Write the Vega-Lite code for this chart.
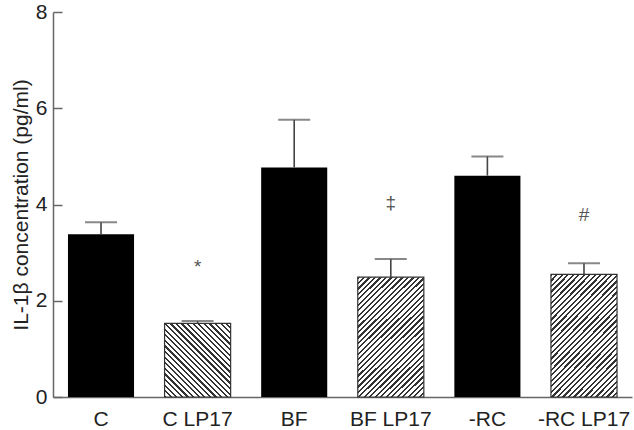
{
  "$schema": "https://vega.github.io/schema/vega-lite/v6.json",
  "width": 579,
  "height": 385,
  "autosize": "none",
  "padding": {"left": 53, "top": 12, "right": 2, "bottom": 33},
  "background": "white",
  "config": {"view": {"stroke": null}, "font": "Liberation Sans"},
  "data": {"values": [
    {"group": "C", "mean": 3.38, "upper": 3.63, "sig": null, "sig_y": null},
    {"group": "C LP17", "mean": 1.53, "upper": 1.58, "sig": "*", "sig_y": 2.7},
    {"group": "BF", "mean": 4.77, "upper": 5.76, "sig": null, "sig_y": null},
    {"group": "BF LP17", "mean": 2.49, "upper": 2.87, "sig": "‡", "sig_y": 4.03},
    {"group": "-RC", "mean": 4.6, "upper": 5.0, "sig": null, "sig_y": null},
    {"group": "-RC LP17", "mean": 2.55, "upper": 2.78, "sig": "#", "sig_y": 3.78}
  ]},
  "encoding": {
    "x": {"field": "group", "type": "nominal", "sort": ["C", "C LP17", "BF", "BF LP17", "-RC", "-RC LP17"],
      "scale": {"paddingInner": 0.316, "paddingOuter": 0.155},
      "axis": {"title": null, "labelAngle": 0, "ticks": false, "labelPadding": 11,
        "labelFontSize": 21, "labelColor": "#222", "domainColor": "#666", "domainWidth": 1.5}}
  },
  "layer": [
    {
      "transform": [{"filter": "indexof(['C','BF','-RC'], datum.group) >= 0"}],
      "mark": {"type": "bar", "color": "black"},
      "encoding": {
        "y": {"field": "mean", "type": "quantitative",
          "scale": {"domain": [0, 8], "nice": false},
          "axis": {"title": "IL-1β concentration (pg/ml)", "titleFontSize": 21, "titleFontWeight": "normal",
            "titleColor": "#222", "titlePadding": 4, "values": [0, 2, 4, 6, 8], "grid": false,
            "tickSize": -9, "tickColor": "#666", "tickWidth": 1.5, "labelPadding": 15,
            "labelFontSize": 21, "labelColor": "#222", "domainColor": "#666", "domainWidth": 1.5}}
      }
    },
    {
      "transform": [{"filter": "datum.group == 'C LP17'"}],
      "mark": {"type": "bar", "stroke": "#333", "strokeWidth": 1.2,
        "fill": {"gradient": "linear", "x1": 0, "y1": 1, "x2": 0.9427, "y2": -0.0513, "stops": [
          {"offset":0,"color":"#333"},{"offset":0.016,"color":"#333"},{"offset":0.016,"color":"#fff"},{"offset":0.04,"color":"#fff"},
          {"offset":0.04,"color":"#333"},{"offset":0.056,"color":"#333"},{"offset":0.056,"color":"#fff"},{"offset":0.08,"color":"#fff"},
          {"offset":0.08,"color":"#333"},{"offset":0.096,"color":"#333"},{"offset":0.096,"color":"#fff"},{"offset":0.12,"color":"#fff"},
          {"offset":0.12,"color":"#333"},{"offset":0.136,"color":"#333"},{"offset":0.136,"color":"#fff"},{"offset":0.16,"color":"#fff"},
          {"offset":0.16,"color":"#333"},{"offset":0.176,"color":"#333"},{"offset":0.176,"color":"#fff"},{"offset":0.2,"color":"#fff"},
          {"offset":0.2,"color":"#333"},{"offset":0.216,"color":"#333"},{"offset":0.216,"color":"#fff"},{"offset":0.24,"color":"#fff"},
          {"offset":0.24,"color":"#333"},{"offset":0.256,"color":"#333"},{"offset":0.256,"color":"#fff"},{"offset":0.28,"color":"#fff"},
          {"offset":0.28,"color":"#333"},{"offset":0.296,"color":"#333"},{"offset":0.296,"color":"#fff"},{"offset":0.32,"color":"#fff"},
          {"offset":0.32,"color":"#333"},{"offset":0.336,"color":"#333"},{"offset":0.336,"color":"#fff"},{"offset":0.36,"color":"#fff"},
          {"offset":0.36,"color":"#333"},{"offset":0.376,"color":"#333"},{"offset":0.376,"color":"#fff"},{"offset":0.4,"color":"#fff"},
          {"offset":0.4,"color":"#333"},{"offset":0.416,"color":"#333"},{"offset":0.416,"color":"#fff"},{"offset":0.44,"color":"#fff"},
          {"offset":0.44,"color":"#333"},{"offset":0.456,"color":"#333"},{"offset":0.456,"color":"#fff"},{"offset":0.48,"color":"#fff"},
          {"offset":0.48,"color":"#333"},{"offset":0.496,"color":"#333"},{"offset":0.496,"color":"#fff"},{"offset":0.52,"color":"#fff"},
          {"offset":0.52,"color":"#333"},{"offset":0.536,"color":"#333"},{"offset":0.536,"color":"#fff"},{"offset":0.56,"color":"#fff"},
          {"offset":0.56,"color":"#333"},{"offset":0.576,"color":"#333"},{"offset":0.576,"color":"#fff"},{"offset":0.6,"color":"#fff"},
          {"offset":0.6,"color":"#333"},{"offset":0.616,"color":"#333"},{"offset":0.616,"color":"#fff"},{"offset":0.64,"color":"#fff"},
          {"offset":0.64,"color":"#333"},{"offset":0.656,"color":"#333"},{"offset":0.656,"color":"#fff"},{"offset":0.68,"color":"#fff"},
          {"offset":0.68,"color":"#333"},{"offset":0.696,"color":"#333"},{"offset":0.696,"color":"#fff"},{"offset":0.72,"color":"#fff"},
          {"offset":0.72,"color":"#333"},{"offset":0.736,"color":"#333"},{"offset":0.736,"color":"#fff"},{"offset":0.76,"color":"#fff"},
          {"offset":0.76,"color":"#333"},{"offset":0.776,"color":"#333"},{"offset":0.776,"color":"#fff"},{"offset":0.8,"color":"#fff"},
          {"offset":0.8,"color":"#333"},{"offset":0.816,"color":"#333"},{"offset":0.816,"color":"#fff"},{"offset":0.84,"color":"#fff"},
          {"offset":0.84,"color":"#333"},{"offset":0.856,"color":"#333"},{"offset":0.856,"color":"#fff"},{"offset":0.88,"color":"#fff"},
          {"offset":0.88,"color":"#333"},{"offset":0.896,"color":"#333"},{"offset":0.896,"color":"#fff"},{"offset":0.92,"color":"#fff"},
          {"offset":0.92,"color":"#333"},{"offset":0.936,"color":"#333"},{"offset":0.936,"color":"#fff"},{"offset":0.96,"color":"#fff"},
          {"offset":0.96,"color":"#333"},{"offset":0.976,"color":"#333"},{"offset":0.976,"color":"#fff"},{"offset":1,"color":"#fff"}
        ]}},
      "encoding": {"y": {"field": "mean", "type": "quantitative"}}
    },
    {
      "transform": [{"filter": "datum.group == 'BF LP17' || datum.group == '-RC LP17'"}],
      "mark": {"type": "bar", "stroke": "#333", "strokeWidth": 1.2,
        "fill": {"gradient": "linear", "x1": 0, "y1": 0, "x2": 0.65, "y2": 1.19, "stops": [
          {"offset":0,"color":"#333"},{"offset":0.0118,"color":"#333"},{"offset":0.0118,"color":"#fff"},{"offset":0.0294,"color":"#fff"},
          {"offset":0.0294,"color":"#333"},{"offset":0.0412,"color":"#333"},{"offset":0.0412,"color":"#fff"},{"offset":0.0588,"color":"#fff"},
          {"offset":0.0588,"color":"#333"},{"offset":0.0706,"color":"#333"},{"offset":0.0706,"color":"#fff"},{"offset":0.0882,"color":"#fff"},
          {"offset":0.0882,"color":"#333"},{"offset":0.1,"color":"#333"},{"offset":0.1,"color":"#fff"},{"offset":0.1176,"color":"#fff"},
          {"offset":0.1176,"color":"#333"},{"offset":0.1294,"color":"#333"},{"offset":0.1294,"color":"#fff"},{"offset":0.1471,"color":"#fff"},
          {"offset":0.1471,"color":"#333"},{"offset":0.1588,"color":"#333"},{"offset":0.1588,"color":"#fff"},{"offset":0.1765,"color":"#fff"},
          {"offset":0.1765,"color":"#333"},{"offset":0.1882,"color":"#333"},{"offset":0.1882,"color":"#fff"},{"offset":0.2059,"color":"#fff"},
          {"offset":0.2059,"color":"#333"},{"offset":0.2176,"color":"#333"},{"offset":0.2176,"color":"#fff"},{"offset":0.2353,"color":"#fff"},
          {"offset":0.2353,"color":"#333"},{"offset":0.2471,"color":"#333"},{"offset":0.2471,"color":"#fff"},{"offset":0.2647,"color":"#fff"},
          {"offset":0.2647,"color":"#333"},{"offset":0.2765,"color":"#333"},{"offset":0.2765,"color":"#fff"},{"offset":0.2941,"color":"#fff"},
          {"offset":0.2941,"color":"#333"},{"offset":0.3059,"color":"#333"},{"offset":0.3059,"color":"#fff"},{"offset":0.3235,"color":"#fff"},
          {"offset":0.3235,"color":"#333"},{"offset":0.3353,"color":"#333"},{"offset":0.3353,"color":"#fff"},{"offset":0.3529,"color":"#fff"},
          {"offset":0.3529,"color":"#333"},{"offset":0.3647,"color":"#333"},{"offset":0.3647,"color":"#fff"},{"offset":0.3824,"color":"#fff"},
          {"offset":0.3824,"color":"#333"},{"offset":0.3941,"color":"#333"},{"offset":0.3941,"color":"#fff"},{"offset":0.4118,"color":"#fff"},
          {"offset":0.4118,"color":"#333"},{"offset":0.4235,"color":"#333"},{"offset":0.4235,"color":"#fff"},{"offset":0.4412,"color":"#fff"},
          {"offset":0.4412,"color":"#333"},{"offset":0.4529,"color":"#333"},{"offset":0.4529,"color":"#fff"},{"offset":0.4706,"color":"#fff"},
          {"offset":0.4706,"color":"#333"},{"offset":0.4824,"color":"#333"},{"offset":0.4824,"color":"#fff"},{"offset":0.5,"color":"#fff"},
          {"offset":0.5,"color":"#333"},{"offset":0.5118,"color":"#333"},{"offset":0.5118,"color":"#fff"},{"offset":0.5294,"color":"#fff"},
          {"offset":0.5294,"color":"#333"},{"offset":0.5412,"color":"#333"},{"offset":0.5412,"color":"#fff"},{"offset":0.5588,"color":"#fff"},
          {"offset":0.5588,"color":"#333"},{"offset":0.5706,"color":"#333"},{"offset":0.5706,"color":"#fff"},{"offset":0.5882,"color":"#fff"},
          {"offset":0.5882,"color":"#333"},{"offset":0.6,"color":"#333"},{"offset":0.6,"color":"#fff"},{"offset":0.6176,"color":"#fff"},
          {"offset":0.6176,"color":"#333"},{"offset":0.6294,"color":"#333"},{"offset":0.6294,"color":"#fff"},{"offset":0.6471,"color":"#fff"},
          {"offset":0.6471,"color":"#333"},{"offset":0.6588,"color":"#333"},{"offset":0.6588,"color":"#fff"},{"offset":0.6765,"color":"#fff"},
          {"offset":0.6765,"color":"#333"},{"offset":0.6882,"color":"#333"},{"offset":0.6882,"color":"#fff"},{"offset":0.7059,"color":"#fff"},
          {"offset":0.7059,"color":"#333"},{"offset":0.7176,"color":"#333"},{"offset":0.7176,"color":"#fff"},{"offset":0.7353,"color":"#fff"},
          {"offset":0.7353,"color":"#333"},{"offset":0.7471,"color":"#333"},{"offset":0.7471,"color":"#fff"},{"offset":0.7647,"color":"#fff"},
          {"offset":0.7647,"color":"#333"},{"offset":0.7765,"color":"#333"},{"offset":0.7765,"color":"#fff"},{"offset":0.7941,"color":"#fff"},
          {"offset":0.7941,"color":"#333"},{"offset":0.8059,"color":"#333"},{"offset":0.8059,"color":"#fff"},{"offset":0.8235,"color":"#fff"},
          {"offset":0.8235,"color":"#333"},{"offset":0.8353,"color":"#333"},{"offset":0.8353,"color":"#fff"},{"offset":0.8529,"color":"#fff"},
          {"offset":0.8529,"color":"#333"},{"offset":0.8647,"color":"#333"},{"offset":0.8647,"color":"#fff"},{"offset":0.8824,"color":"#fff"},
          {"offset":0.8824,"color":"#333"},{"offset":0.8941,"color":"#333"},{"offset":0.8941,"color":"#fff"},{"offset":0.9118,"color":"#fff"},
          {"offset":0.9118,"color":"#333"},{"offset":0.9235,"color":"#333"},{"offset":0.9235,"color":"#fff"},{"offset":0.9412,"color":"#fff"},
          {"offset":0.9412,"color":"#333"},{"offset":0.9529,"color":"#333"},{"offset":0.9529,"color":"#fff"},{"offset":0.9706,"color":"#fff"},
          {"offset":0.9706,"color":"#333"},{"offset":0.9824,"color":"#333"},{"offset":0.9824,"color":"#fff"},{"offset":1,"color":"#fff"}
        ]}},
      "encoding": {"y": {"field": "mean", "type": "quantitative"}}
    },
    {
      "mark": {"type": "rule", "color": "#444", "strokeWidth": 1.6},
      "encoding": {
        "y": {"field": "mean", "type": "quantitative"},
        "y2": {"field": "upper"}
      }
    },
    {
      "mark": {"type": "tick", "orient": "horizontal", "color": "#555", "size": 32, "thickness": 2},
      "encoding": {"y": {"field": "upper", "type": "quantitative"}}
    },
    {
      "transform": [{"filter": "isValid(datum.sig_y)"}],
      "mark": {"type": "text", "fontSize": 19, "color": "#555", "baseline": "middle"},
      "encoding": {
        "y": {"field": "sig_y", "type": "quantitative"},
        "text": {"field": "sig"}
      }
    }
  ]
}
